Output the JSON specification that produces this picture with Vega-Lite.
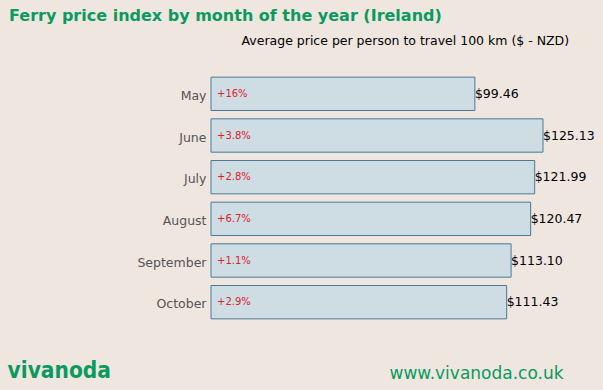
{
  "$schema": "https://vega.github.io/schema/vega-lite/v6.json",
  "width": 332,
  "height": 250,
  "autosize": "none",
  "padding": {"left": 211, "top": 73, "right": 60, "bottom": 67},
  "background": "#efe6e0",
  "config": {"view": {"stroke": null}, "font": "DejaVu Sans"},
  "title": {
    "text": "Ferry price index by month of the year (Ireland)",
    "anchor": "start",
    "frame": "group",
    "dx": -202,
    "color": "#0a9a5e",
    "fontSize": 16,
    "fontWeight": "bold",
    "font": "DejaVu Sans",
    "offset": 10
  },
  "resolve": {"axis": {"x": "independent"}},
  "data": {
    "values": [
      {"month": "May", "price": 99.46, "change": "+16%"},
      {"month": "June", "price": 125.13, "change": "+3.8%"},
      {"month": "July", "price": 121.99, "change": "+2.8%"},
      {"month": "August", "price": 120.47, "change": "+6.7%"},
      {"month": "September", "price": 113.10, "change": "+1.1%"},
      {"month": "October", "price": 111.43, "change": "+2.9%"}
    ]
  },
  "encoding": {
    "y": {
      "field": "month",
      "type": "nominal",
      "sort": null,
      "scale": {"paddingInner": 0.2, "paddingOuter": 0.1},
      "axis": {
        "title": "vivanoda",
        "titleAngle": 0,
        "titleX": -204,
        "titleY": 304,
        "titleAlign": "left",
        "titleBaseline": "alphabetic",
        "titleFontSize": 22.5,
        "titleFontWeight": "bold",
        "titleColor": "#0a9a5e",
        "titleFont": "DejaVu Sans Condensed",
        "ticks": false,
        "domain": false,
        "labelPadding": 5,
        "labelFontSize": 12.5,
        "labelOffset": 2,
        "labelColor": "#555555",
        "labelFont": "DejaVu Sans"
      }
    }
  },
  "layer": [
    {
      "mark": {"type": "bar", "fill": "#cddde3", "stroke": "#4a7a99", "strokeWidth": 1},
      "encoding": {
        "x": {
          "field": "price",
          "type": "quantitative",
          "scale": {"domain": [0, 125.13], "nice": false},
          "axis": {
            "orient": "top",
            "labels": false,
            "ticks": false,
            "domain": false,
            "grid": false,
            "title": "Average price per person to travel 100 km ($ - NZD)",
            "titleX": 30,
            "titleY": -26,
            "titleAlign": "left",
            "titleFontSize": 12.5,
            "titleFontWeight": "normal",
            "titleColor": "#000000",
            "titleFont": "DejaVu Sans"
          }
        }
      }
    },
    {
      "mark": {"type": "text", "align": "left", "dx": 0, "fontSize": 12.5, "color": "#000000", "font": "DejaVu Sans"},
      "encoding": {
        "x": {
          "field": "price",
          "type": "quantitative",
          "axis": {
            "orient": "bottom",
            "labels": false,
            "ticks": false,
            "domain": false,
            "grid": false,
            "title": "www.vivanoda.co.uk",
            "titleX": 178,
            "titleY": 55,
            "titleAlign": "left",
            "titleBaseline": "alphabetic",
            "titleFontSize": 17,
            "titleFontWeight": "normal",
            "titleColor": "#0a9a5e",
            "titleFont": "DejaVu Sans"
          }
        },
        "text": {"field": "price", "type": "quantitative", "format": "$.2f"}
      }
    },
    {
      "mark": {"type": "text", "align": "left", "dx": 6, "fontSize": 10, "color": "#e0202a", "font": "DejaVu Sans"},
      "encoding": {
        "x": {"datum": 0, "type": "quantitative", "axis": null},
        "text": {"field": "change"}
      }
    }
  ]
}
